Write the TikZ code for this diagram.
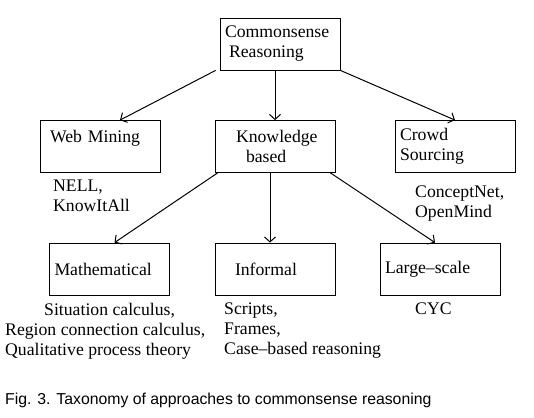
\documentclass[tikz,border=0pt]{standalone}
\usepackage{fontspec}
\setmainfont{Liberation Serif}
\newfontfamily\capfont{Liberation Sans}
\usetikzlibrary{arrows.meta}

\begin{document}
\begin{tikzpicture}%
  [x=1pt,y=-1pt,font=\fontsize{17.7}{20}\selectfont]
  \tikzstyle{box node}=[rectangle,draw,line width=0.8pt,minimum width=120pt,minimum height=52pt,
    text width=110pt,inner xsep=5pt,inner ysep=0pt,align=left]
  \tikzstyle{note node}=[anchor=north west,inner sep=0pt,align=left]
  \tikzstyle{arr}=[line width=1pt,-{Straight Barb[length=5pt,width=11pt]}]
  \useasboundingbox (0,0) rectangle (534,417);
  \node(0)[box node] at (280,44) {Commonsense\\\hspace*{4pt}Reasoning};
  \node(wm)[box node] at (100,146.5) {\hspace*{5pt}Web Mining\\\mbox{}};
  \node(kb)[box node] at (275,146.5) {\hspace*{16pt}Knowledge\\\hspace*{26pt}based};
  \node(cs)[box node] at (455,146.5) {Crowd\\Sourcing};
  \node(ma)[box node] at (109.5,269) {Mathematical};
  \node(in)[box node] at (275,269) {\hspace*{15pt}Informal};
  \node(ls)[box node] at (440,269) {Large--scale};
  \node(wmn)[note node] at (53,180) {NELL,\\KnowItAll};
  \node(csn)[note node] at (415,186) {ConceptNet,\\OpenMind};
  \node(man)[note node] at (5,303) {\hspace*{39pt}Situation calculus,\\Region connection calculus,\\Qualitative process theory};
  \node(inn)[note node] at (224,303) {Scripts,\\Frames,\\Case--based reasoning};
  \node(lsn)[note node] at (415,303) {CYC};
  \node(cap)[anchor=base west,inner sep=0pt,font=\capfont\fontsize{15.8}{18}\selectfont] at (5,404)
    {Fig. 3. Taxonomy of approaches to commonsense reasoning};
  \draw[arr] ([xshift=-4pt]0.south west) -- ([xshift=20pt]wm.north);
  \draw[arr] (kb.north |- 0.south) -- (kb.north);
  \draw[arr] (0.south east) -- (cs.north);
  \draw[arr] ([xshift=3pt]kb.south west) -- ([xshift=5pt]ma.north);
  \draw[arr] ([xshift=-5pt]kb.south) -- ([xshift=-5pt]in.north);
  \draw[arr] ([xshift=-5pt]kb.south east) -- ([xshift=-5pt]ls.north);
\end{tikzpicture}
\end{document}
